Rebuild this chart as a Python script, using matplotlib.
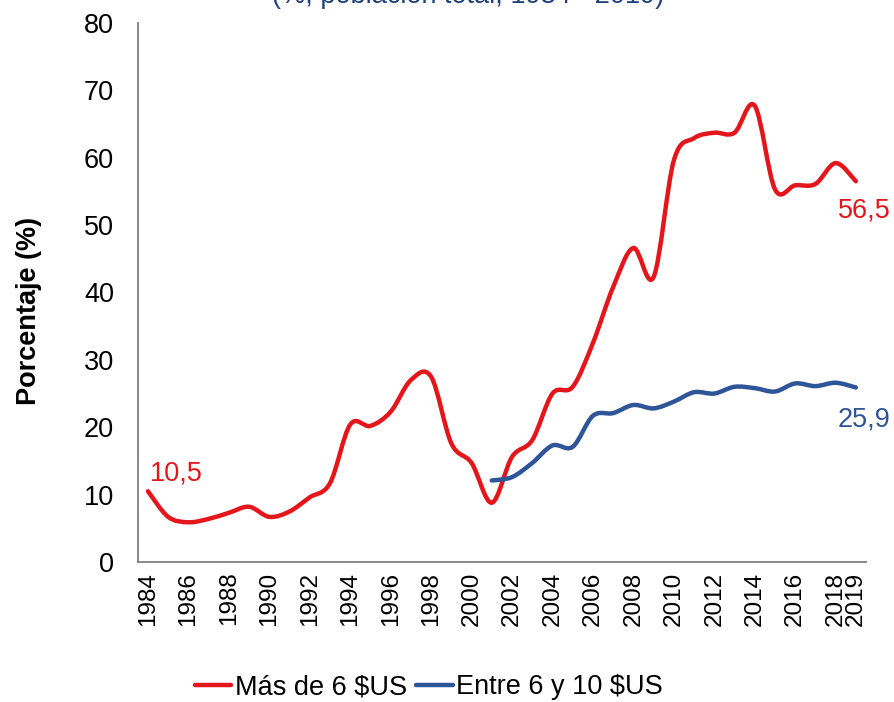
import numpy as np
import matplotlib.pyplot as plt
from matplotlib.path import Path
from matplotlib.patches import PathPatch
from matplotlib.lines import Line2D

plt.rcParams['font.family'] = ['Liberation Sans', 'DejaVu Sans']

years = list(range(1984, 2020))
mas_de_6 = [10.5, 6.7, 5.9, 6.4, 7.3, 8.2, 6.7, 7.5, 9.6, 11.7, 20.4, 20.2,
            22.3, 27.0, 27.5, 17.6, 14.7, 8.8, 15.6, 18.1, 25.0, 26.0, 32.5,
            40.8, 46.6, 42.3, 59.6, 62.9, 63.7, 63.7, 67.7, 55.3, 55.9, 56.1,
            59.2, 56.5]
entre_6_10_years = list(range(2001, 2020))
entre_6_10 = [12.1, 12.6, 14.7, 17.3, 17.1, 21.7, 22.1, 23.3, 22.8, 23.8,
              25.2, 25.0, 26.0, 25.8, 25.3, 26.5, 26.1, 26.6, 25.9]
series_names = ['Más de 6 $US', 'Entre 6 y 10 $US']
colores = ['#E3161C', '#2E5597']
titulo = '(%, población total, 1984 - 2019)'


def smooth_path(xs, ys):
    # curva suavizada tipo Excel (bezier con tangentes Catmull-Rom)
    xs = np.asarray(xs, float)
    ys = np.asarray(ys, float)
    n = len(xs)
    verts = [(xs[0], ys[0])]
    codes = [Path.MOVETO]
    for i in range(n - 1):
        i0 = max(i - 1, 0)
        i3 = min(i + 2, n - 1)
        c1 = (xs[i] + (xs[i + 1] - xs[i0]) / 6, ys[i] + (ys[i + 1] - ys[i0]) / 6)
        c2 = (xs[i + 1] - (xs[i3] - xs[i]) / 6, ys[i + 1] - (ys[i3] - ys[i]) / 6)
        verts += [c1, c2, (xs[i + 1], ys[i + 1])]
        codes += [Path.CURVE4] * 3
    return Path(verts, codes)


fig = plt.figure(figsize=(8.95, 7.02), dpi=100)
ax = fig.add_axes([0.154, 0.1994, 0.8136, 0.768])

x1 = [years.index(y) for y in years]
x2 = [years.index(y) for y in entre_6_10_years]
for xs, ys, c in [(x1, mas_de_6, colores[0]), (x2, entre_6_10, colores[1])]:
    ax.add_patch(PathPatch(smooth_path(xs, ys), facecolor='none', edgecolor=c,
                           lw=3.2, capstyle='round', joinstyle='round'))

ax.set_xlim(-0.5, len(years) - 0.5)
ax.set_ylim(0, 80)
ax.set_yticks(range(0, 81, 10))
ax.tick_params(axis='y', labelsize=19.5, length=0, pad=17)
ax.set_xticks(range(len(years)))
ax.set_xticklabels([str(y) if (y % 2 == 0 or y == 2019) else '' for y in years],
                   rotation=90)
ax.tick_params(axis='x', labelsize=17.5, length=0, pad=7)
for s in ['top', 'right']:
    ax.spines[s].set_visible(False)
for s in ['left', 'bottom']:
    ax.spines[s].set_color('#7F7F7F')
    ax.spines[s].set_linewidth(1.3)

ax.set_ylabel('Porcentaje (%)', fontsize=19.5, fontweight='bold')
ax.yaxis.set_label_coords(-0.132, 0.466)

ax.text(x1[0] + 0.1, mas_de_6[0] + 1.65, '10,5', color=colores[0], fontsize=19.5,
        ha='left', va='baseline')
ax.text(x1[-1] + 0.4, mas_de_6[-1] - 5.4, '56,5', color=colores[0], fontsize=19.5,
        ha='center', va='baseline')
ax.text(x2[-1] + 0.4, entre_6_10[-1] - 5.8, '25,9', color=colores[1], fontsize=19.5,
        ha='center', va='baseline')

handles = [Line2D([], [], color=c, lw=3.2, solid_capstyle='round') for c in colores]
fig.legend(handles, series_names, loc='center', bbox_to_anchor=(0.479, 0.021),
           ncol=2, frameon=False, fontsize=19.5, handlelength=1.35,
           handletextpad=0.12, columnspacing=0.35, borderpad=0.1)

fig.text(0.523, 1 - 3 / 702, titulo, color='#1F3F7A', fontsize=19.5,
         ha='center', va='baseline')

fig.savefig('out.png', dpi=100)
